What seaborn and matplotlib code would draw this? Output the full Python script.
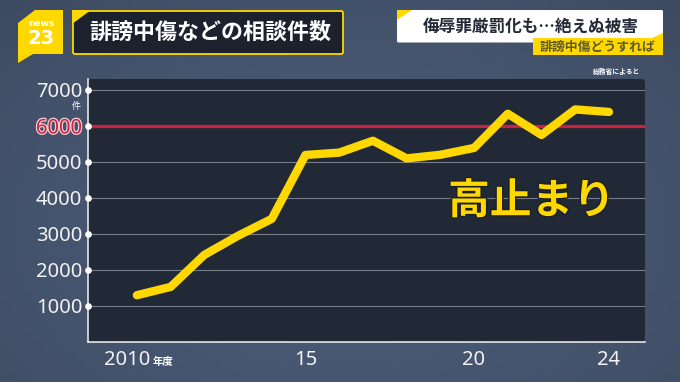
import numpy as np
import pandas as pd
import matplotlib
matplotlib.use("Agg")
import matplotlib.pyplot as plt
import matplotlib.patheffects as pe
from matplotlib.patches import Polygon, FancyBboxPatch
from matplotlib.transforms import ScaledTranslation
import seaborn as sns

years = [2010, 2011, 2012, 2013, 2014, 2015, 2016, 2017, 2018, 2019, 2020, 2021, 2022, 2023, 2024]
counts = [1300, 1530, 2420, 2950, 3420, 5195, 5260, 5590, 5100, 5200, 5390, 6340, 5750, 6460, 6390]
y_ticks = [1000, 2000, 3000, 4000, 5000, 6000, 7000]
x_ticks = [2010, 2015, 2020, 2024]
x_labels = ["2010", "15", "20", "24"]
title = "誹謗中傷などの相談件数"
headline = "侮辱罪厳罰化も…絶えぬ被害"
subhead = "誹謗中傷どうすれば"
source = "総務省によると"
callout = "高止まり"

sns.set_theme(style="dark")
JP = ["Noto Sans CJK JP", "DejaVu Sans"]
plt.rcParams["font.family"] = JP

YEL = "#ffd800"
fig = plt.figure(figsize=(6.8, 3.82), dpi=100)

bg = fig.add_axes([0, 0, 1, 1], zorder=0)
bg.set_xlim(0, 680); bg.set_ylim(382, 0); bg.axis("off")
yy, xx = np.mgrid[0:1:60j, 0:1:100j]
shade = 1 - 0.8 * (((xx - 0.5) / 0.8) ** 2 + ((yy - 0.6) / 0.95) ** 2)
c0, c1 = np.array([0x36, 0x41, 0x56]), np.array([0x4a, 0x5a, 0x75])
img = c0 + (c1 - c0) * np.clip(shade, 0, 1)[..., None]
bg.imshow(img.astype(np.uint8), extent=[0, 680, 382, 0], aspect="auto", zorder=0, interpolation="bilinear")
bg.set_xlim(0, 680); bg.set_ylim(382, 0)

# logo
bg.add_patch(Polygon([(35, 10), (63, 10), (63, 54), (33, 54), (18, 63), (18, 23)], fc=YEL, ec="none", zorder=2))
bg.text(41, 23.5, "news", color="white", fontsize=6.5, fontweight="bold", ha="center", va="center", family="DejaVu Sans", zorder=3)
bg.text(41, 38, "23", color="white", fontsize=14, fontweight="bold", ha="center", va="center", family="DejaVu Sans", zorder=3)

# title box
bg.add_patch(FancyBboxPatch((73, 11), 270, 43, boxstyle="round,pad=0,rounding_size=2", fc="#1b222d", ec=YEL, lw=1.3, zorder=2))
bg.add_patch(Polygon([(72, 10), (91, 10), (72, 24)], fc=YEL, ec="none", zorder=3))
bg.text(210, 32.5, title, color="white", fontsize=15.8, fontweight="bold", ha="center", va="center", zorder=4)

# headline boxes
bg.add_patch(FancyBboxPatch((397, 10), 266, 32.5, boxstyle="round,pad=0,rounding_size=1.5", fc="white", ec="none", zorder=2))
bg.add_patch(Polygon([(397, 10), (412, 10), (397, 20)], fc=YEL, ec="none", zorder=3))
bg.text(531, 27, headline, color="#232a36", fontsize=12, fontweight="bold", ha="center", va="center", zorder=4)
bg.add_patch(Polygon([(533, 38), (652, 38), (663, 33), (663, 55), (533, 55)], fc=YEL, ec="none", zorder=3))
bg.text(598, 47, subhead, color="#5f5a2c", fontsize=9.3, fontweight="bold", ha="center", va="center", zorder=4)
bg.text(616.5, 71.5, source, color="white", fontsize=4.9, fontweight="bold", ha="center", va="center", zorder=4)

# panel
bg.add_patch(FancyBboxPatch((88, 79), 557, 263, boxstyle="round,pad=0,rounding_size=4", fc="#222936", ec="none", zorder=1))

ax = fig.add_axes([88 / 680, (382 - 342) / 382, 557 / 680, 263 / 382], zorder=2)
ax.patch.set_alpha(0)
df = pd.DataFrame({"year": years, "count": counts})
for v in y_ticks:
    if v == 6000:
        ax.axhline(v, color="#c9213f", lw=2.3, zorder=1.5)
    else:
        ax.axhline(v, color="#767c88", lw=0.8, zorder=1)
sns.lineplot(data=df, x="year", y="count", ax=ax, color=YEL, lw=6.0, zorder=3,
             solid_capstyle="round", solid_joinstyle="round")
ax.set_xlim(2008.55, 2025.07)
ax.set_ylim(0, 7305)
ax.set_xlabel(""); ax.set_ylabel("")
ax.grid(False)
for s in ("top", "right"):
    ax.spines[s].set_visible(False)
for s in ("left", "bottom"):
    ax.spines[s].set_color("#f2f2f2")
    ax.spines[s].set_linewidth(1.1)
ax.set_yticks(y_ticks)
ax.set_yticklabels([str(v) for v in y_ticks])
ax.set_xticks(x_ticks)
ax.set_xticklabels(x_labels)
ax.tick_params(axis="both", length=0, colors="#f2f2f2", labelsize=14.5)
ax.tick_params(axis="y", pad=4)
ax.tick_params(axis="x", pad=6)
for lab in ax.get_yticklabels() + ax.get_xticklabels():
    lab.set_family(["Noto Sans", "DejaVu Sans"])
for lab in ax.get_xticklabels():
    lab.set_fontweight("medium")
for lab in ax.get_yticklabels():
    if lab.get_text() == "6000":
        lab.set_color("#c9213f")
        lab.set_path_effects([pe.withStroke(linewidth=1.8, foreground="#f0cdd3")])
ax.plot([0] * len(y_ticks), y_ticks, "o", ms=3.8, color="white", clip_on=False,
        transform=ax.get_yaxis_transform(), zorder=5)
first = ax.get_xticklabels()[0]
first.set_ha("right")
first.set_transform(first.get_transform() + ScaledTranslation(13 / 100, 0, fig.dpi_scale_trans))

ax.text(2021.7, 3900, callout, color=YEL, fontsize=30, fontweight="bold", ha="center", va="center",
        zorder=6, path_effects=[pe.withStroke(linewidth=2, foreground="#1a1f29")])

bg.text(76, 106, "件", color="white", fontsize=6.5, ha="center", va="center", zorder=4)
bg.text(163, 362, "年度", color="white", fontsize=7.5, fontweight="bold", ha="center", va="center", zorder=4)

fig.savefig("out.png", dpi=100)
